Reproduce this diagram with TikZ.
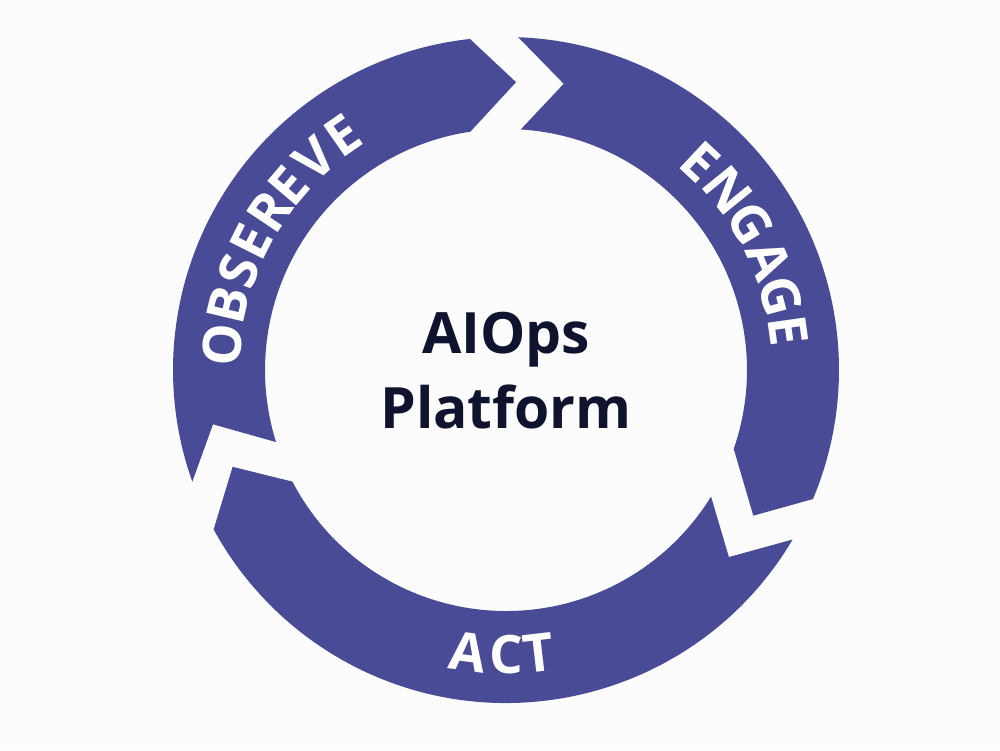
\documentclass[tikz,border=0pt]{standalone}
\usepackage{fontspec}
\setmainfont{Open Sans}
\newfontfamily\ringfont{Open Sans}
\newfontfamily\titlefont{Open Sans}
\definecolor{ring}{RGB}{73,75,151}
\definecolor{bg}{RGB}{252,252,253}
\definecolor{ink}{RGB}{16,19,46}
\begin{document}
\begin{tikzpicture}[x=1pt,y=1pt,
  seg/.style={fill=ring},
  titletext/.style={font=\titlefont\bfseries\fontsize{57}{70}\selectfont, text=ink, inner sep=0pt},
  ringletter/.style={font=\ringfont\bfseries\fontsize{53}{60}\selectfont, text=white, inner sep=0pt, anchor=center}]
\fill[bg] (-506,-380) rectangle (494,370);
\useasboundingbox (-506,-380) rectangle (494,370);
% OBSERVE segment
\fill[seg] (199.6:333) arc[start angle=199.6,end angle=96.2,radius=333]
  -- (88:288) -- (98.5:241) arc[start angle=98.5,end angle=197.4,radius=241]
  -- (190.5:298) -- cycle;
% ENGAGE segment
\fill[seg] (87.9:333) arc[start angle=87.9,end angle=-22.8,radius=333]
  -- (-30.5:287) -- (-19.1:241) arc[start angle=-19.1,end angle=86.5,radius=241]
  -- (78.6:292) -- cycle;
% ACT segment
\fill[seg] (-30.6:333) arc[start angle=-30.6,end angle=-151.4,radius=333]
  -- (-160.5:290) -- (-152.4:241) arc[start angle=-152.4,end angle=-31.7,radius=241]
  -- (-40:291) -- cycle;
% OBSEREVE letters (clockwise, tops outward)
\foreach \ch/\a/\n in {O/175/o1, B/166.8/o2, S/159.8/o3, E/153.3/o4, R/146.2/o5, E/139.7/o6, V/132.1/o7, E/124.8/o8}{
  \pgfmathsetmacro{\rot}{\a-90}
  \node[ringletter, rotate=\rot] (\n) at (\a:285) {\ch};
}
% ENGAGE letters
\foreach \ch/\a/\n in {E/47/e1, N/39/e2, G/31/e3, A/22.8/e4, G/15.1/e5, E/8/e6}{
  \pgfmathsetmacro{\rot}{\a-90}
  \node[ringletter, rotate=\rot] (\n) at (\a:285) {\ch};
}
% ACT letters (counter-clockwise, tops inward)
\foreach \ch/\a/\n in {A/262.3/a1, C/270/a2, T/276.6/a3}{
  \pgfmathsetmacro{\rot}{\a+90}
  \node[ringletter, rotate=\rot] (\n) at (\a:285) {\ch};
}
% centre
\node[titletext, anchor=base] (t1) at (0,17) {AIOps};
\node[titletext, anchor=base] (t2) at (0,-58) {Platform};
\end{tikzpicture}
\end{document}
